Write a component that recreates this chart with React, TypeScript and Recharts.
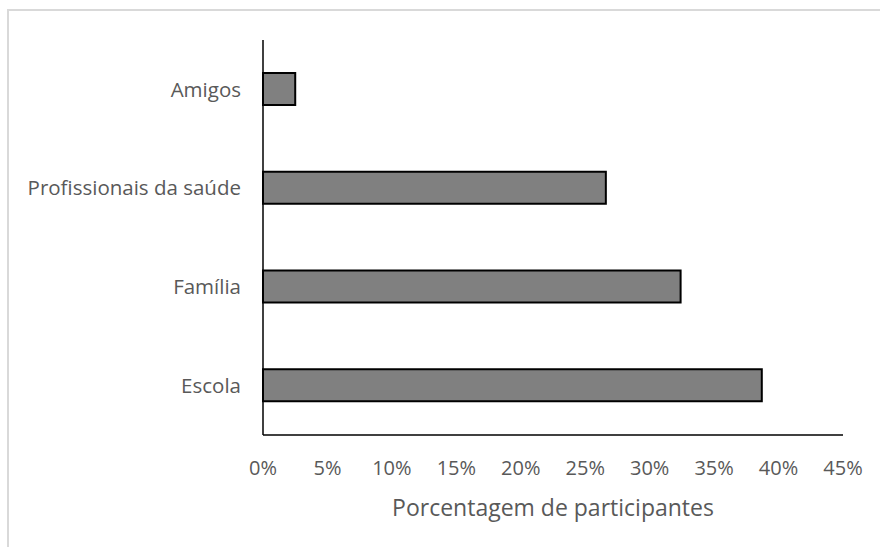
import React from "react";
import { BarChart, Bar, XAxis, YAxis, Label } from "recharts";

const categories = ["Amigos", "Profissionais da saúde", "Família", "Escola"];
const percentages = [2.5, 26.6, 32.4, 38.7];
const xTicks = [0, 5, 10, 15, 20, 25, 30, 35, 40, 45];
const axisTitle = "Porcentagem de participantes";

const data = categories.map((c, i) => ({ name: c, value: percentages[i] }));

const FONT = "'Open Sans', 'Liberation Sans', sans-serif";
const TEXT = "#595959";

export default function App() {
  return (
    <div style={{ position: "absolute", left: 0, top: 0, width: 880, height: 547, background: "#fff", overflow: "hidden" }}>
      <div
        style={{
          position: "absolute",
          left: 7,
          top: 9,
          width: 880,
          height: 560,
          borderTop: "2px solid #d9d9d9",
          borderLeft: "2px solid #d9d9d9",
          boxSizing: "border-box",
        }}
      />
      <div style={{ position: "absolute", left: 0, top: 0 }}>
        <BarChart
          width={880}
          height={547}
          data={data}
          layout="vertical"
          margin={{ top: 40, right: 37, bottom: 0, left: 0 }}
          barSize={32}
        >
          <XAxis
            type="number"
            domain={[0, 45]}
            ticks={xTicks}
            tickFormatter={(v) => `${v}%`}
            tickLine={false}
            tickSize={0}
            tickMargin={26}
            height={112}
            axisLine={{ stroke: "#000", strokeWidth: 1.5 }}
            tick={{ fill: TEXT, fontSize: 20, fontFamily: FONT }}
            interval={0}
          >
            <Label
              value={axisTitle}
              position="insideTop"
              offset={65}
              style={{ fill: TEXT, fontSize: 23, fontFamily: FONT }}
            />
          </XAxis>
          <YAxis
            type="category"
            dataKey="name"
            width={263}
            tickLine={false}
            tickSize={0}
            tickMargin={22}
            axisLine={{ stroke: "#000", strokeWidth: 1.5 }}
            tick={{ fill: TEXT, fontSize: 20.5, fontFamily: FONT }}
            interval={0}
          />
          <Bar dataKey="value" fill="#808080" stroke="#000" strokeWidth={2} isAnimationActive={false} />
        </BarChart>
      </div>
    </div>
  );
}
